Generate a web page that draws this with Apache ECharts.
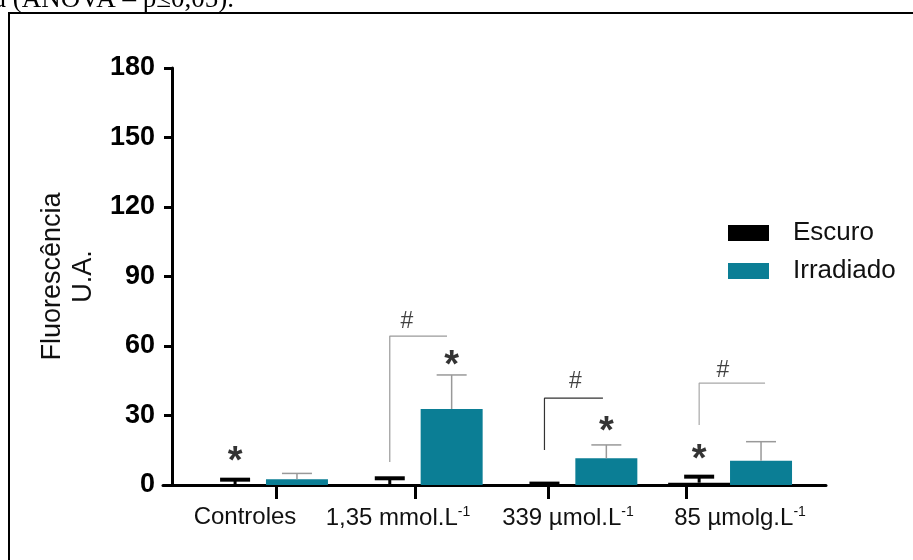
<!DOCTYPE html>
<html>
<head>
<meta charset="utf-8">
<script src="https://cdn.jsdelivr.net/npm/echarts@6/dist/echarts.min.js"></script>
<style>html,body{margin:0;padding:0;background:#fff}#c{width:913px;height:560px}</style>
</head>
<body>
<div id="c"></div>
<script>
// ---- data ----
const categories = ['Controles', '1,35 mmol.L', '339 µmol.L', '85 µmolg.L'];
const categorySup = ['', '-1', '-1', '-1'];
const seriesNames = ['Escuro', 'Irradiado'];
const escuroMean = [0.3, 0.3, 0.1, 1.0];
const escuroSD = [2.0, 2.6, 0.5, 2.6];
const irradMean = [2.5, 32.8, 11.5, 10.5];
const irradSD = [2.5, 14.7, 5.8, 8.2];
const yTickValues = [0, 30, 60, 90, 120, 150, 180];
// significance marks: [x (category units), y (value)]
const starMarks = [[-0.2, 13.0], [1.2, 54.8], [2.2, 25.9], [2.8, 14.2]];
const hashMarks = [[0.91, 70.3], [2.0, 44.5], [2.954, 49.2]];
// brackets: [xLeft, yBottom, yTop, xRight]
const brackets = [[0.8, 9.9, 64.3, 1.17], [1.8, 15.1, 37.5, 2.178], [2.8, 25.9, 44.0, 3.226]];
const bracketColors = ['#9a9a9a', '#333333', '#a8a8a8'];
// axis tick / label positions (category units)
const xTickPos = [0.065, 0.963, 1.823, 2.715];
const xLabelPos = [-0.136, 0.853, 1.952, 3.064];

const OFF = 0.2;
const TEAL = '#0b7e95';
const FONT = '"Liberation Sans", Arial, Helvetica, sans-serif';

const escuroBars = escuroMean.map((v, i) => [i - OFF, v]);
const irradBars = irradMean.map((v, i) => [i + OFF, v]);
const escuroErr = escuroMean.map((v, i) => [i - OFF, v, escuroSD[i]]);
const irradErr = irradMean.map((v, i) => [i + OFF, v, irradSD[i]]);

function errRender(color, lw, capLw) {
  return function (params, api) {
    const x = api.value(0), m = api.value(1), s = api.value(2);
    const p0 = api.coord([x, m]);
    const p1 = api.coord([x, m + s]);
    return {
      type: 'group',
      children: [
        { type: 'line', shape: { x1: p0[0], y1: p0[1], x2: p1[0], y2: p1[1] }, style: { stroke: color, lineWidth: lw } },
        { type: 'line', shape: { x1: p1[0] - 15, y1: p1[1], x2: p1[0] + 15, y2: p1[1] }, style: { stroke: color, lineWidth: capLw } }
      ]
    };
  };
}

const bracketSeries = brackets.map((b, i) => ({
  type: 'line',
  data: [[b[0], b[1]], [b[0], b[2]], [b[3], b[2]]],
  symbol: 'none',
  lineStyle: { color: bracketColors[i], width: 1.2 },
  z: 3,
  silent: true
}));

const chart = echarts.init(document.getElementById('c'));
chart.setOption({
  animation: false,
  backgroundColor: '#fff',
  textStyle: { fontFamily: FONT },
  graphic: [
    { type: 'rect', shape: { x: 9, y: 13, width: 930, height: 600 }, style: { fill: 'none', stroke: '#000', lineWidth: 2 }, z: -1 },
    { type: 'text', x: -6, y: -14, style: { text: 'a (ANOVA – p≤0,05).', font: '27px "Liberation Serif", "Times New Roman", serif', fill: '#000' } }
  ],
  legend: {
    data: seriesNames,
    orient: 'vertical',
    left: 728,
    top: 218,
    padding: 0,
    itemWidth: 41,
    itemHeight: 16,
    itemGap: 8,
    icon: 'rect',
    textStyle: { fontSize: 26, color: '#111', lineHeight: 30, padding: [0, 0, 0, 19], fontFamily: FONT }
  },
  grid: { left: 163, right: 87, top: 68, bottom: 75 },
  xAxis: {
    type: 'value',
    min: -0.666,
    max: 3.62,
    splitLine: { show: false },
    axisLine: { show: true, onZero: false, lineStyle: { color: '#000', width: 3 } },
    axisTick: { show: true, customValues: xTickPos, length: 14, lineStyle: { color: '#000', width: 3 } },
    axisLabel: {
      customValues: xLabelPos,
      margin: 20,
      fontSize: 24,
      color: '#111',
      formatter: function (v) {
        let best = 0, bd = 1e9;
        xLabelPos.forEach((p, i) => { const d = Math.abs(p - v); if (d < bd) { bd = d; best = i; } });
        return categorySup[best] ? '{n|' + categories[best] + '}{sup|' + categorySup[best] + '}' : '{n|' + categories[best] + '}';
      },
      rich: {
        n: { fontSize: 24, color: '#111', fontFamily: FONT },
        sup: { fontSize: 14, color: '#111', fontFamily: FONT, padding: [0, 0, 12, 0] }
      }
    }
  },
  yAxis: {
    type: 'value',
    min: 0,
    max: 180,
    interval: 30,
    offset: -9,
    splitLine: { show: false },
    axisLine: { show: true, onZero: false, lineStyle: { color: '#000', width: 3 } },
    axisTick: { show: true, length: 8, lineStyle: { color: '#000', width: 3 } },
    axisLabel: { fontSize: 27, fontWeight: 'bold', color: '#000', margin: 17, fontFamily: FONT,
      formatter: v => yTickValues.includes(v) ? String(v) : '' },
    name: 'Fluorescência\nU.A.',
    nameLocation: 'middle',
    nameRotate: 90,
    nameGap: 72,
    nameTextStyle: { fontSize: 27, lineHeight: 31, color: '#111', fontFamily: FONT }
  },
  series: [
    { name: 'Escuro', type: 'bar', data: escuroBars, barWidth: 62, barGap: '-100%', itemStyle: { color: '#000' }, z: 2 },
    { name: 'Irradiado', type: 'bar', data: irradBars, barWidth: 62, barGap: '-100%', itemStyle: { color: TEAL }, z: 2 },
    { type: 'custom', data: escuroErr, encode: { x: 0, y: 1 }, renderItem: errRender('#000', 3, 4), z: 4, silent: true },
    { type: 'custom', data: irradErr, encode: { x: 0, y: 1 }, renderItem: errRender('#999', 1.5, 1.5), z: 4, silent: true },
    ...bracketSeries,
    { type: 'scatter', data: starMarks, symbolSize: 0, z: 5, silent: true,
      label: { show: true, position: 'inside', formatter: '*', fontSize: 38, fontWeight: 'bold', color: '#000', offset: [0, 8], fontFamily: FONT } },
    { type: 'scatter', data: hashMarks, symbolSize: 0, z: 5, silent: true,
      label: { show: true, position: 'inside', formatter: '#', fontSize: 23, color: '#111', fontFamily: FONT } }
  ]
});
</script>
</body>
</html>
